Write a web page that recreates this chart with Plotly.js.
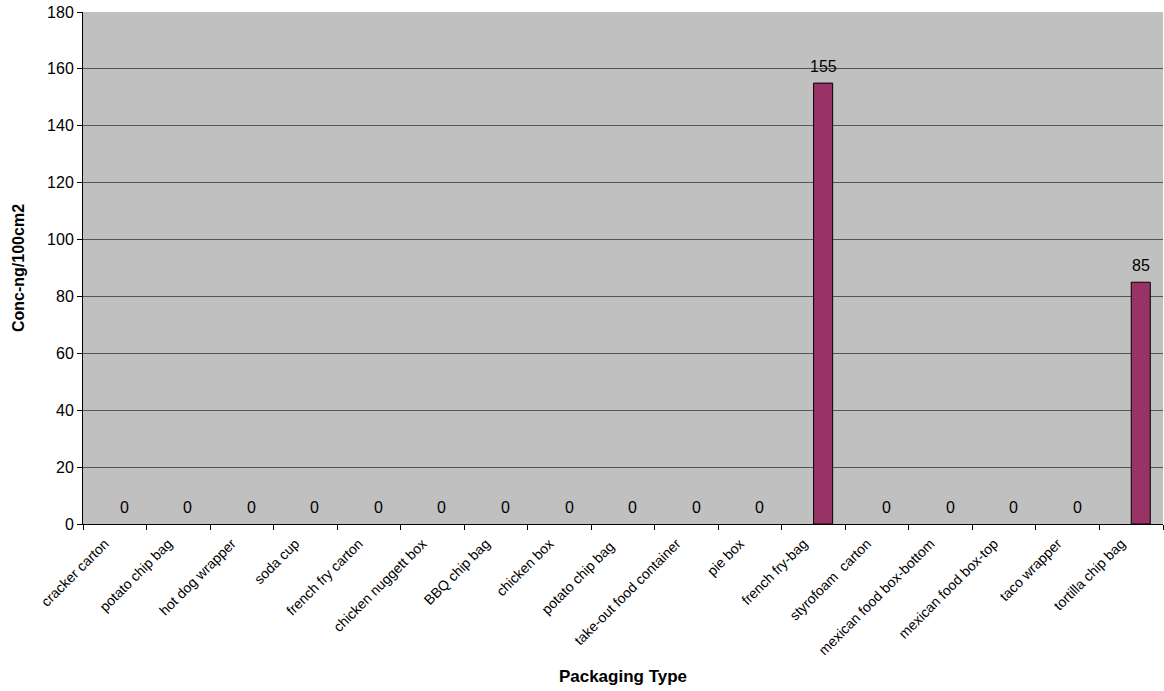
<!DOCTYPE html>
<html>
<head>
<meta charset="utf-8">
<script src="https://cdn.plot.ly/plotly-3.0.1.min.js"></script>
<style>html,body{margin:0;padding:0;background:#fff;}#chart{width:1164px;height:691px;}</style>
</head>
<body>
<div id="chart"></div>
<script>
const categories = ["cracker carton","potato chip bag","hot dog wrapper","soda cup","french fry carton","chicken nuggett box","BBQ chip bag","chicken box","potato chip bag ","take-out food container","pie box","french fry-bag","styrofoam  carton","mexican food box-bottom","mexican food box-top","taco wrapper","tortilla chip bag"];
const concValues = [0,0,0,0,0,0,0,0,0,0,0,155,0,0,0,0,85];
const yTickValues = [0,20,40,60,80,100,120,140,160,180];

const BAR_WIDTH = 0.3;

const trace = {
  type: 'bar',
  x: categories,
  y: concValues,
  width: BAR_WIDTH,
  offset: 0,
  marker: {color: '#993366', line: {color: '#000', width: concValues.map(v => v > 0 ? 1 : 0)}},
  hoverinfo: 'x+y'
};

const labelAnnotations = concValues.map((v, i) => ({
  x: i + BAR_WIDTH / 2,
  y: v,
  xref: 'x', yref: 'y',
  text: String(v),
  showarrow: false,
  yanchor: 'middle',
  xanchor: 'center',
  yshift: 17,
  font: {family: 'Liberation Sans, Arial, sans-serif', size: 16, color: '#000'}
}));

const layout = {
  width: 1164, height: 691,
  margin: {l: 83, r: 1, t: 12, b: 167},
  paper_bgcolor: '#ffffff',
  plot_bgcolor: '#c0c0c0',
  showlegend: false,
  font: {family: 'Liberation Sans, Arial, sans-serif', color: '#000'},
  annotations: labelAnnotations,
  xaxis: {
    type: 'category',
    categoryorder: 'array',
    categoryarray: categories,
    range: [-0.5, 16.5],
    tickson: 'boundaries',
    ticks: 'outside', ticklen: 5, tickcolor: '#000', tickwidth: 1,
    tickangle: -45,
    tickfont: {size: 14},
    ticklabelshift: -10,
    ticklabelstandoff: 5,
    showline: true, linecolor: '#000', linewidth: 1,
    showgrid: false,
    automargin: false,
    title: {text: 'Packaging Type', font: {size: 17, weight: 'bold'}, standoff: 13}
  },
  yaxis: {
    range: [0, 180],
    tickvals: yTickValues,
    ticks: 'outside', ticklen: 5, tickcolor: '#000', tickwidth: 1,
    tickfont: {size: 16},
    showline: true, linecolor: '#000', linewidth: 1,
    showgrid: true, gridcolor: '#555555', gridwidth: 1,
    zeroline: false,
    automargin: false,
    title: {text: 'Conc-ng/100cm2', font: {size: 16, weight: 'bold'}, standoff: 18}
  }
};

Plotly.newPlot('chart', [trace], layout, {displayModeBar: false, staticPlot: true});
</script>
</body>
</html>
